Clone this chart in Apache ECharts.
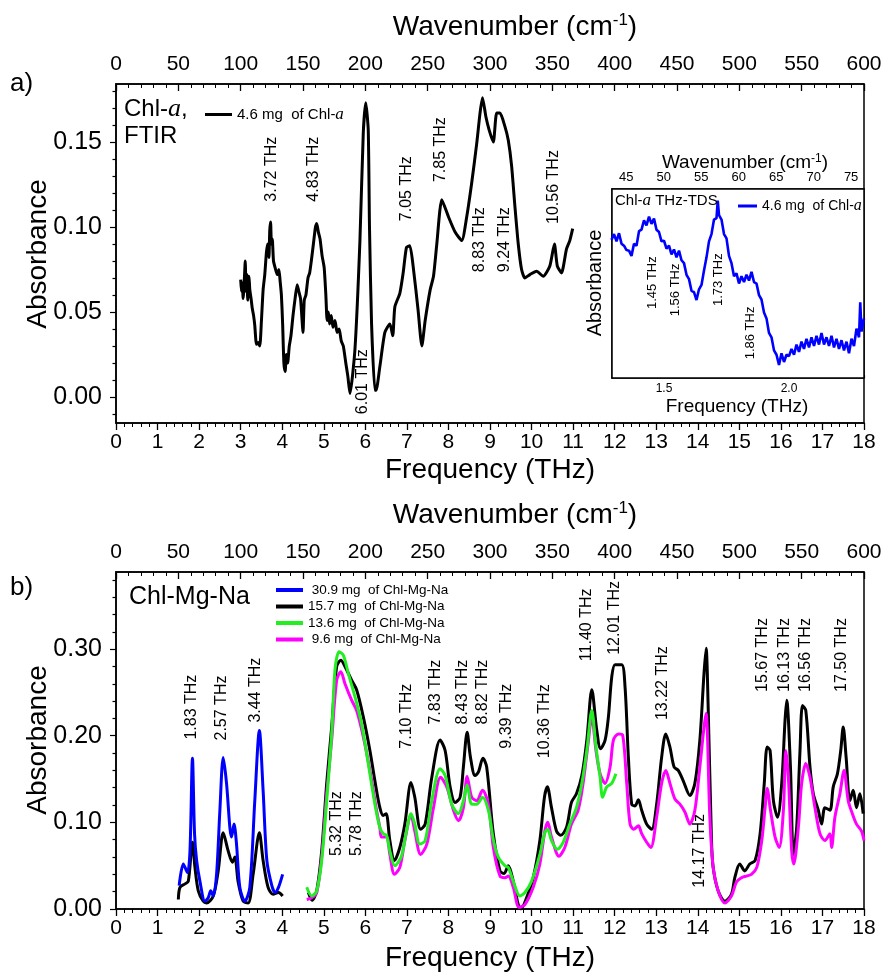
<!DOCTYPE html>
<html><head><meta charset="utf-8">
<script src="https://cdn.jsdelivr.net/npm/echarts@6/dist/echarts.min.js"></script>
<style>html,body{margin:0;padding:0;background:#fff}#c{width:885px;height:974px}</style>
</head><body><div id="c"></div>
<script>
// ---------- DATA ----------
// Panel a: FTIR, 4.6 mg Chl-a
const aFreq = [3.00,3.02,3.04,3.06,3.09,3.11,3.13,3.15,3.17,3.20,3.22,3.25,3.28,3.31,3.34,3.36,3.38,3.42,3.46,3.50,3.54,3.58,3.62,3.65,3.68,3.70,3.72,3.74,3.76,3.79,3.83,3.88,3.92,3.95,3.98,4.01,4.04,4.07,4.10,4.13,4.17,4.21,4.26,4.31,4.36,4.40,4.44,4.47,4.50,4.53,4.57,4.62,4.66,4.70,4.75,4.80,4.83,4.87,4.91,4.96,5.01,5.05,5.08,5.11,5.14,5.18,5.22,5.27,5.32,5.37,5.42,5.47,5.53,5.58,5.63,5.75,5.87,5.95,6.01,6.07,6.10,6.15,6.23,6.26,6.35,6.47,6.59,6.66,6.71,6.83,6.91,6.99,7.07,7.15,7.27,7.36,7.44,7.56,7.64,7.72,7.84,8.00,8.16,8.32,8.44,8.56,8.68,8.76,8.82,8.90,8.98,9.08,9.16,9.24,9.36,9.44,9.52,9.60,9.68,9.76,9.84,9.96,10.12,10.28,10.44,10.55,10.62,10.72,10.84,10.92,10.99];
const aAbs = [0.069,0.062,0.067,0.058,0.070,0.080,0.062,0.072,0.057,0.071,0.063,0.058,0.052,0.048,0.042,0.035,0.031,0.032,0.030,0.045,0.063,0.072,0.085,0.090,0.082,0.098,0.103,0.090,0.093,0.080,0.076,0.072,0.075,0.068,0.060,0.043,0.020,0.015,0.025,0.020,0.030,0.036,0.048,0.058,0.066,0.062,0.058,0.048,0.038,0.057,0.060,0.070,0.073,0.080,0.090,0.100,0.102,0.097,0.093,0.083,0.076,0.060,0.045,0.050,0.043,0.048,0.041,0.045,0.038,0.040,0.033,0.030,0.020,0.012,0.002,0.028,0.092,0.155,0.173,0.157,0.100,0.043,0.004,0.004,0.018,0.038,0.043,0.036,0.053,0.061,0.073,0.088,0.089,0.077,0.051,0.030,0.045,0.063,0.071,0.090,0.116,0.106,0.097,0.092,0.106,0.126,0.149,0.167,0.176,0.165,0.157,0.150,0.167,0.167,0.159,0.151,0.136,0.112,0.090,0.075,0.070,0.072,0.074,0.071,0.077,0.090,0.077,0.073,0.087,0.092,0.099];

// Inset: THz-TDS, 4.6 mg Chl-a (arbitrary absorbance units)
const insetFreq = [1.29,1.30,1.31,1.32,1.33,1.34,1.35,1.36,1.37,1.38,1.39,1.40,1.41,1.42,1.43,1.44,1.45,1.46,1.47,1.48,1.49,1.50,1.51,1.52,1.53,1.54,1.55,1.56,1.57,1.58,1.59,1.60,1.61,1.62,1.63,1.64,1.65,1.66,1.67,1.68,1.69,1.70,1.71,1.715,1.72,1.73,1.74,1.75,1.76,1.77,1.78,1.79,1.80,1.81,1.82,1.83,1.84,1.85,1.86,1.87,1.88,1.89,1.90,1.91,1.92,1.93,1.94,1.95,1.96,1.97,1.98,1.99,2.00,2.01,2.02,2.03,2.04,2.05,2.06,2.07,2.08,2.09,2.10,2.11,2.12,2.13,2.14,2.15,2.16,2.17,2.18,2.19,2.20,2.21,2.22,2.23,2.24,2.25,2.26,2.27,2.28,2.285,2.29,2.30];
const insetAbs = [4.75,4.95,4.70,4.98,4.62,4.55,4.40,4.38,4.20,4.62,4.55,5.05,5.10,5.42,5.25,5.55,5.30,5.48,5.10,5.02,4.70,4.72,4.45,4.55,4.25,4.42,4.15,4.38,4.05,3.95,3.55,3.40,3.00,2.95,2.68,3.05,3.20,3.70,4.15,4.70,4.95,5.45,5.50,6.10,5.60,5.45,4.95,4.80,4.20,3.95,3.50,3.60,3.25,3.50,3.30,3.55,3.35,3.65,3.30,3.25,2.85,2.70,2.25,2.05,1.55,1.40,0.95,0.80,0.45,0.85,0.55,0.80,0.75,1.00,0.80,1.15,0.90,1.25,1.00,1.35,1.05,1.40,1.10,1.45,1.15,1.55,1.15,1.40,1.10,1.45,1.05,1.35,1.00,1.30,0.95,1.25,0.85,1.35,1.10,1.70,1.40,2.60,1.60,2.05];

// Panel b: Chl-Mg-Na
const bBlueFreq = [1.52,1.62,1.72,1.78,1.84,1.89,1.94,2.02,2.14,2.22,2.28,2.34,2.42,2.50,2.58,2.66,2.74,2.78,2.84,2.90,2.98,3.10,3.22,3.34,3.45,3.54,3.63,3.75,3.83,3.91,4.01];
const bBlueAbs = [0.027,0.052,0.042,0.067,0.174,0.087,0.056,0.032,0.009,0.013,0.021,0.015,0.040,0.114,0.175,0.145,0.094,0.083,0.098,0.075,0.025,0.009,0.025,0.125,0.206,0.137,0.056,0.027,0.019,0.025,0.040];

const bBlackFreq = [1.50,1.54,1.66,1.74,1.84,1.90,1.98,2.10,2.18,2.34,2.46,2.58,2.70,2.80,2.86,2.94,3.06,3.18,3.30,3.45,3.54,3.66,3.78,3.91,4.01,4.30,4.63,4.72,4.83,4.95,5.07,5.19,5.31,5.41,5.51,5.67,5.79,5.95,6.11,6.23,6.35,6.43,6.50,6.59,6.70,6.83,6.95,7.10,7.19,7.33,7.44,7.60,7.80,7.92,8.04,8.16,8.28,8.36,8.45,8.53,8.64,8.72,8.83,8.92,9.08,9.24,9.34,9.44,9.56,9.68,9.74,9.88,10.04,10.20,10.31,10.38,10.48,10.60,10.70,10.84,10.96,11.08,11.21,11.33,11.45,11.57,11.66,11.77,11.85,11.93,12.01,12.17,12.25,12.33,12.41,12.49,12.57,12.65,12.77,12.89,13.01,13.13,13.23,13.33,13.43,13.53,13.65,13.81,13.93,14.05,14.15,14.20,14.25,14.33,14.37,14.49,14.65,14.81,14.89,15.01,15.13,15.25,15.38,15.50,15.60,15.67,15.74,15.82,15.92,16.02,16.10,16.14,16.23,16.30,16.38,16.46,16.52,16.60,16.70,16.78,16.90,16.98,17.06,17.18,17.26,17.36,17.44,17.50,17.57,17.66,17.74,17.82,17.90,17.98];
const bBlackAbs = [0.011,0.025,0.029,0.032,0.077,0.048,0.021,0.009,0.007,0.015,0.044,0.088,0.067,0.054,0.060,0.031,0.009,0.007,0.040,0.088,0.056,0.025,0.017,0.019,0.015,null,0.019,0.010,0.021,0.067,0.145,0.210,0.280,0.287,0.280,0.264,0.253,0.222,0.183,0.148,0.117,0.108,0.110,0.079,0.056,0.071,0.098,0.146,0.129,0.092,0.098,0.152,0.195,0.183,0.141,0.123,0.129,0.164,0.204,0.175,0.154,0.158,0.174,0.164,0.087,0.044,0.041,0.050,0.032,0.005,0.000,0.013,0.036,0.079,0.129,0.141,0.117,0.090,0.085,0.094,0.123,0.133,0.154,0.195,0.253,0.206,0.185,0.195,0.222,0.268,0.282,0.282,0.256,0.175,0.121,0.119,0.126,0.114,0.098,0.092,0.121,0.175,0.202,0.187,0.164,0.160,0.148,0.131,0.145,0.195,0.272,0.301,0.233,0.079,0.048,0.021,0.009,0.017,0.036,0.052,0.044,0.052,0.056,0.087,0.145,0.187,0.183,0.125,0.106,0.145,0.218,0.241,0.164,0.063,0.094,0.183,0.235,0.229,0.164,0.133,0.114,0.098,0.117,0.114,0.141,0.156,0.183,0.210,0.175,0.125,0.137,0.117,0.133,0.110];

const bGreenFreq = [4.59,4.71,4.83,4.95,5.07,5.19,5.27,5.37,5.47,5.59,5.75,5.91,6.07,6.23,6.35,6.43,6.51,6.59,6.71,6.87,6.99,7.10,7.19,7.31,7.44,7.60,7.80,7.92,8.08,8.24,8.36,8.45,8.56,8.68,8.82,8.96,9.08,9.20,9.36,9.44,9.56,9.72,9.84,10.00,10.20,10.32,10.39,10.48,10.62,10.76,10.92,11.08,11.21,11.33,11.45,11.55,11.65,11.71,11.81,11.93,12.03];
const bGreenAbs = [0.025,0.015,0.021,0.056,0.125,0.202,0.276,0.297,0.293,0.272,0.245,0.214,0.168,0.121,0.094,0.087,0.085,0.067,0.050,0.061,0.090,0.110,0.098,0.075,0.079,0.125,0.162,0.154,0.121,0.110,0.125,0.143,0.121,0.121,0.129,0.114,0.080,0.060,0.050,0.048,0.032,0.015,0.019,0.032,0.063,0.088,0.092,0.079,0.069,0.077,0.098,0.117,0.145,0.183,0.229,0.187,0.152,0.129,0.141,0.145,0.156];

const bMagFreq = [4.59,4.71,4.83,4.95,5.07,5.19,5.31,5.41,5.51,5.67,5.79,5.95,6.11,6.27,6.35,6.39,6.51,6.59,6.70,6.83,6.95,7.10,7.19,7.33,7.48,7.64,7.81,7.96,8.12,8.24,8.36,8.45,8.56,8.68,8.82,8.96,9.08,9.24,9.36,9.44,9.56,9.70,9.84,10.04,10.20,10.32,10.39,10.48,10.66,10.80,10.96,11.12,11.24,11.36,11.45,11.55,11.65,11.77,11.89,11.97,12.09,12.19,12.29,12.37,12.46,12.57,12.65,12.77,12.87,13.01,13.13,13.23,13.33,13.45,13.57,13.69,13.81,13.93,14.05,14.15,14.20,14.29,14.37,14.49,14.65,14.81,14.93,15.05,15.17,15.29,15.42,15.54,15.62,15.67,15.75,15.86,15.96,16.06,16.12,16.18,16.26,16.31,16.42,16.50,16.60,16.70,16.82,16.94,17.06,17.18,17.22,17.30,17.42,17.52,17.62,17.72,17.82,17.94,18.00];
const bMagAbs = [0.011,0.013,0.019,0.060,0.133,0.195,0.264,0.274,0.260,0.241,0.229,0.199,0.160,0.114,0.094,0.083,0.083,0.063,0.040,0.048,0.079,0.108,0.090,0.063,0.075,0.117,0.152,0.141,0.114,0.102,0.117,0.153,0.129,0.125,0.137,0.121,0.071,0.038,0.036,0.038,0.025,0.002,0.005,0.025,0.052,0.090,0.100,0.083,0.061,0.071,0.098,0.114,0.145,0.191,0.222,0.183,0.156,0.145,0.164,0.195,0.202,0.201,0.145,0.098,0.092,0.096,0.087,0.077,0.071,0.106,0.145,0.160,0.145,0.127,0.121,0.112,0.098,0.114,0.164,0.210,0.226,0.106,0.048,0.021,0.007,0.015,0.031,0.036,0.038,0.040,0.048,0.079,0.117,0.139,0.114,0.083,0.071,0.114,0.183,0.152,0.067,0.052,0.094,0.145,0.168,0.152,0.117,0.087,0.079,0.087,0.071,0.106,0.133,0.160,0.125,0.110,0.098,0.090,0.079];

const bSeriesNames = ['30.9 mg  of Chl-Mg-Na','15.7 mg  of Chl-Mg-Na','13.6 mg  of Chl-Mg-Na','9.6 mg  of Chl-Mg-Na'];

// Tick labels
const aYTicks = [0, 0.05, 0.10, 0.15];
const aYMinor = [-0.01,0.01,0.02,0.03,0.04,0.06,0.07,0.08,0.09,0.11,0.12,0.13,0.14,0.16,0.17,0.18];
const bYTicks = [0, 0.10, 0.20, 0.30];
const bYMinor = [0.02,0.04,0.06,0.08,0.12,0.14,0.16,0.18,0.22,0.24,0.26,0.28,0.32,0.34,0.36,0.38];
const insetXTicks = [1.5, 2.0];
const insetXMinor = [1.3,1.4,1.6,1.7,1.8,1.9,2.1,2.2,2.3];
const insetTopTicks = [45,50,55,60,65,70,75];
const insetTopMinor = [44,46,47,48,49,51,52,53,54,56,57,58,59,61,62,63,64,66,67,68,69,71,72,73,74,76];
const insetYTicks = [1,2,3,4,5,6];
const insetYMinor = [0.2,0.4,0.6,0.8,1.2,1.4,1.6,1.8,2.2,2.4,2.6,2.8,3.2,3.4,3.6,3.8,4.2,4.4,4.6,4.8,5.2,5.4,5.6,5.8,6.2,6.4];

// Peak annotations [text, freq position, absorbance position]
const aNotes = [['3.72 THz',3.75,0.134],['4.83 THz',4.75,0.134],['6.01 THz',5.94,0.009],['7.05 THz',7.00,0.1225],['7.85 THz',7.80,0.1455],['8.83 THz',8.76,0.0925],['9.24 THz',9.36,0.0925],['10.56 THz',10.54,0.1235]];
const insetNotes = [['1.45 THz',1.452,3.28],['1.56 THz',1.544,3.03],['1.73 THz',1.716,3.38],['1.86 THz',1.844,1.55]];
const bNotes = [['1.83 THz',1.83,0.233],['2.57 THz',2.55,0.232],['3.44 THz',3.37,0.2526],['5.32 THz',5.32,0.0985],['5.78 THz',5.80,0.0985],['7.10 THz',7.00,0.2225],['7.83 THz',7.70,0.2503],['8.43 THz',8.35,0.2503],['8.82 THz',8.83,0.2503],['9.39 THz',9.41,0.2225],['10.36 THz',10.32,0.2167],['11.40 THz',11.33,0.328],['12.01 THz',12.01,0.336],['13.22 THz',13.16,0.2607],['14.17 THz',14.05,0.0672],['15.67 THz',15.57,0.2932],['16.13 THz',16.10,0.2932],['16.56 THz',16.60,0.2932],['17.50 THz',17.47,0.2932]];

// ---------- CHART ----------
const FONT = '"Liberation Sans", Arial, sans-serif';
const SERIF = '"Liberation Serif", "Times New Roman", serif';
const pairs = (xs, ys) => xs.map((x, i) => [x, ys[i]]);
const chart = echarts.init(document.getElementById('c'), null, {renderer: 'canvas'});

const lineBlk = {color: '#000', width: 1.5};
function xMain(g, pos, min, max, interval, inside) {
  return {gridIndex: g, type: 'value', position: pos, min, max, interval,
    axisLine: {show: true, onZero: false, lineStyle: lineBlk},
    axisTick: {show: true, inside, length: 7, lineStyle: {color: '#000', width: 1.3}},
    minorTick: {show: true, splitNumber: 5, length: 4, lineStyle: {color: '#000', width: 1}},
    axisLabel: {color: '#000', fontSize: 21, fontFamily: FONT, margin: 9},
    splitLine: {show: false}, minorSplitLine: {show: false}};
}
function customAxis(g, pos, min, max, ticks, labels, len, inside, labelOpt, showLine) {
  return {gridIndex: g, type: 'value', position: pos, min, max,
    axisLine: {show: !!showLine, onZero: false, lineStyle: lineBlk},
    axisTick: {show: true, inside, length: len, customValues: ticks, lineStyle: {color: '#000', width: 1.2}},
    axisLabel: labels ? Object.assign({show: true, customValues: labels, color: '#000', fontFamily: FONT}, labelOpt) : {show: false},
    splitLine: {show: false}};
}
const fmt2 = v => v.toFixed(2);
const fmt1 = v => v.toFixed(1);

const option = {
  animation: false,
  backgroundColor: '#fff',
  textStyle: {fontFamily: FONT},
  grid: [
    {left: 116, top: 84, width: 748, height: 339, show: true, borderColor: '#000', borderWidth: 1.5, containLabel: false},
    {left: 612, top: 189, width: 252, height: 189, show: true, borderColor: '#000', borderWidth: 1.5, backgroundColor: '#fff', z: 5},
    {left: 116, top: 572, width: 748, height: 337, show: true, borderColor: '#000', borderWidth: 1.5}
  ],
  xAxis: [
    xMain(0, 'bottom', 0, 18, 1, false),
    xMain(0, 'top', 0, 600, 50, true),
    customAxis(1, 'bottom', 1.292, 2.30, insetXTicks, insetXTicks, 5, true, {fontSize: 12, margin: 5, formatter: fmt1}, true),
    customAxis(1, 'bottom', 1.292, 2.30, insetXMinor, null, 3, true),
    customAxis(1, 'top', 43.10, 76.72, insetTopTicks, insetTopTicks, 5, true, {fontSize: 13, margin: 5}, true),
    customAxis(1, 'top', 43.10, 76.72, insetTopMinor, null, 2.5, true),
    xMain(2, 'bottom', 0, 18, 1, false),
    xMain(2, 'top', 0, 600, 50, true)
  ],
  yAxis: [
    customAxis(0, 'left', -0.0153, 0.1841, aYTicks, aYTicks, 6, false, {fontSize: 25, margin: 14, formatter: fmt2}, true),
    customAxis(0, 'left', -0.0153, 0.1841, aYMinor, null, 3.5, false),
    customAxis(1, 'left', 0, 6.5, insetYTicks, null, 5, true, null, true),
    customAxis(1, 'left', 0, 6.5, insetYMinor, null, 2.5, true),
    customAxis(2, 'left', 0, 0.389, bYTicks, bYTicks, 6, false, {fontSize: 25, margin: 14, formatter: fmt2}, true),
    customAxis(2, 'left', 0, 0.389, bYMinor, null, 3.5, false)
  ],
  legend: [
    {data: ['aFTIR'], left: 200, top: 101, icon: 'rect', itemWidth: 27, itemHeight: 3, selectedMode: false,
     formatter: () => '{n|4.6 mg  of Chl-}{i|a}',
     textStyle: {rich: {n: {fontSize: 15, fontFamily: FONT, color: '#000'}, i: {fontSize: 17, fontFamily: SERIF, fontStyle: 'italic', color: '#000'}}}},
    {data: ['aTDS'], left: 733, top: 193, icon: 'rect', itemWidth: 19, itemHeight: 3, selectedMode: false, z: 10,
     formatter: () => '{n|4.6 mg  of Chl-}{i|a}',
     textStyle: {rich: {n: {fontSize: 14, fontFamily: FONT, color: '#000'}, i: {fontSize: 16, fontFamily: SERIF, fontStyle: 'italic', color: '#000'}}}},
    {data: bSeriesNames, left: 271, top: 578, orient: 'vertical', icon: 'rect', itemWidth: 27, itemHeight: 4, itemGap: 2.5, selectedMode: false,
     formatter: n => (n.startsWith('9.6') || n.startsWith('30.9')) ? ' ' + n : n,
     textStyle: {fontSize: 13.5, fontFamily: FONT, color: '#000'}}
  ],
  series: [
    {name: 'aFTIR', type: 'line', xAxisIndex: 0, yAxisIndex: 0, data: pairs(aFreq, aAbs), showSymbol: false, symbol: 'none',
     smooth: 0.2, color: '#000', lineStyle: {color: '#000', width: 3}},
    {name: 'aTDS', type: 'line', xAxisIndex: 2, yAxisIndex: 2, data: pairs(insetFreq, insetAbs), showSymbol: false, symbol: 'none',
     color: '#0000ff', lineStyle: {color: '#0000ff', width: 2.6}, z: 6},
    {name: bSeriesNames[1], type: 'line', xAxisIndex: 6, yAxisIndex: 4, data: pairs(bBlackFreq, bBlackAbs), showSymbol: false, symbol: 'none',
     smooth: 0.3, connectNulls: false, color: '#000', lineStyle: {color: '#000', width: 3}},
    {name: bSeriesNames[3], type: 'line', xAxisIndex: 6, yAxisIndex: 4, data: pairs(bMagFreq, bMagAbs), showSymbol: false, symbol: 'none',
     smooth: 0.3, color: '#ff00ff', lineStyle: {color: '#ff00ff', width: 3}},
    {name: bSeriesNames[2], type: 'line', xAxisIndex: 6, yAxisIndex: 4, data: pairs(bGreenFreq, bGreenAbs), showSymbol: false, symbol: 'none',
     smooth: 0.3, color: '#22ee22', lineStyle: {color: '#22ee22', width: 3}},
    {name: bSeriesNames[0], type: 'line', xAxisIndex: 6, yAxisIndex: 4, data: pairs(bBlueFreq, bBlueAbs), showSymbol: false, symbol: 'none',
     smooth: 0.3, color: '#0000ff', lineStyle: {color: '#0000ff', width: 3}}
  ]
};
chart.setOption(option);

// ---------- TEXT / ANNOTATIONS ----------
function txt(x, y, text, size, extra) {
  return Object.assign({type: 'text', x, y, z: 20,
    style: Object.assign({text, fontSize: size, fontFamily: FONT, fill: '#000', textAlign: 'center', textVerticalAlign: 'middle'}, (extra && extra.style) || {})},
    extra && extra.rotation !== undefined ? {rotation: extra.rotation} : {});
}
const R = Math.PI / 2;
const supRich = (n, s) => ({n: {fontSize: n, fontFamily: FONT, fill: '#000', lineHeight: n + 2}, s: {fontSize: s, fontFamily: FONT, fill: '#000', verticalAlign: 'top', lineHeight: s}});
const gfx = [];
gfx.push(txt(515, 27, '{n|Wavenumber (cm}{s|-1}{n|)}', 28, {style: {rich: supRich(28, 17)}}));
gfx.push(txt(490, 470, 'Frequency (THz)', 28));
gfx.push(txt(38, 254, 'Absorbance', 28, {rotation: R}));
gfx.push(txt(515, 515, '{n|Wavenumber (cm}{s|-1}{n|)}', 28, {style: {rich: supRich(28, 17)}}));
gfx.push(txt(490, 958, 'Frequency (THz)', 28));
gfx.push(txt(38, 740, 'Absorbance', 28, {rotation: R}));
gfx.push(txt(745, 163, '{n|Wavenumber (cm}{s|-1}{n|)}', 19, {style: {rich: supRich(19, 12)}}));
gfx.push(txt(737, 407, 'Frequency (THz)', 19));
gfx.push(txt(595, 283, 'Absorbance', 20, {rotation: R}));
gfx.push(txt(10, 84, 'a)', 26, {style: {textAlign: 'left'}}));
gfx.push(txt(10, 588, 'b)', 26, {style: {textAlign: 'left'}}));
const italRich = (n, i) => ({n: {fontSize: n, fontFamily: FONT, fill: '#000'}, i: {fontSize: i, fontFamily: SERIF, fontStyle: 'italic', fill: '#000'}});
gfx.push(txt(124, 109, '{n|Chl-}{i|a}{n|,}', 24, {style: {textAlign: 'left', rich: italRich(24, 26)}}));
gfx.push(txt(124, 136, 'FTIR', 24, {style: {textAlign: 'left'}}));
gfx.push(txt(129, 597, 'Chl-Mg-Na', 25, {style: {textAlign: 'left'}}));
gfx.push(txt(615, 201, '{n|Chl-}{i|a}{n| THz-TDS}', 15, {style: {textAlign: 'left', rich: italRich(15, 17)}}));

function notes(list, xi, yi, size) {
  list.forEach(([t, fx, fy]) => {
    const p = chart.convertToPixel({xAxisIndex: xi, yAxisIndex: yi}, [fx, fy]);
    gfx.push(txt(p[0], p[1], t, size, {rotation: R}));
  });
}
notes(aNotes, 0, 0, 16);
notes(insetNotes, 2, 2, 13);
notes(bNotes, 6, 4, 16);

chart.setOption({graphic: gfx.map(g => Object.assign(g, {z: 20}))});
</script>
</body></html>
